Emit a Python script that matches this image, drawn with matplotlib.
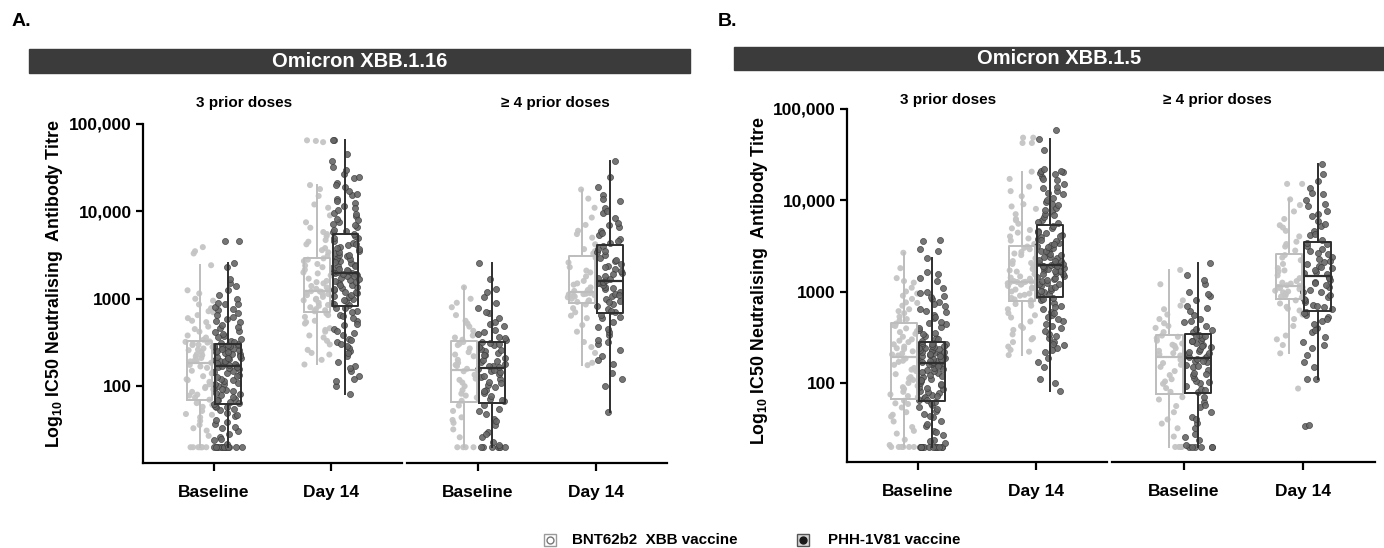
import numpy as np
import matplotlib
matplotlib.use("Agg")
import matplotlib.pyplot as plt
from matplotlib.patches import Rectangle
from matplotlib.lines import Line2D

plt.rcParams['font.family'] = ['Liberation Sans', 'DejaVu Sans']
plt.rcParams['font.weight'] = 'bold'
plt.rcParams['mathtext.fontset'] = 'custom'
plt.rcParams['mathtext.bf'] = 'Liberation Sans:bold'
plt.rcParams['mathtext.rm'] = 'Liberation Sans:bold'
plt.rcParams['mathtext.default'] = 'bf'

# ---- data ----
variants = ["Omicron XBB.1.16", "Omicron XBB.1.5"]
panel_letters = ["A.", "B."]
facets = ["3 prior doses", "\u2265 4 prior doses"]
timepoints = ["Baseline", "Day 14"]
vaccines = ["BNT62b2  XBB vaccine", "PHH-1V81 vaccine"]
ytick_vals = [100, 1000, 10000, 100000]
ytick_labels = ["100", "1000", "10,000", "100,000"]

# box statistics, order: 3d base BNT, 3d base PHH, 3d D14 BNT, 3d D14 PHH,
#                        4d base BNT, 4d base PHH, 4d D14 BNT, 4d D14 PHH
a_median = [182, 171, 1235, 1950, 152, 160, 1180, 1590]
a_q1 = [70, 62, 708, 830, 66, 65, 897, 680]
a_q3 = [328, 300, 2940, 5580, 328, 321, 3090, 4100]
a_whislo = [20, 20, 177, 82, 20, 20, 174, 51]
a_whishi = [2420, 2570, 20000, 66000, 1350, 2600, 17800, 38000]

b_median = [194, 164, 1280, 1950, 192, 186, 1157, 1490]
b_q1 = [67, 64, 782, 878, 75, 77, 834, 616]
b_q3 = [449, 278, 3140, 5330, 335, 340, 2570, 3450]
b_whislo = [20, 20, 202, 82, 20, 20, 211, 110]
b_whishi = [2650, 2340, 20400, 46000, 1720, 2040, 10150, 25000]

# individual titres (panel A, XBB.1.16)
a_3d_base_bnt = [20, 20, 20, 20, 20, 27, 31, 36, 40, 44, 48, 52, 58, 64,
                 70, 74, 80, 86, 92, 98, 105, 112, 120, 130, 140, 150, 162, 175,
                 185, 192, 200, 210, 220, 232, 245, 258, 270, 282, 295, 305, 315, 325,
                 340, 380, 420, 480, 540, 600, 650, 700, 780, 860, 1000, 1150, 1250, 2420,
                 3300, 3500, 3900,
                 20, 20, 33, 47, 61, 78, 95, 117, 146, 168,
                 196, 226, 262, 298, 321, 360, 450, 560, 720, 950]
a_3d_base_phh = [20, 20, 20, 20, 20, 20, 20, 20, 20, 22, 24, 26, 28, 31, 34, 37, 41, 45, 49, 53, 57, 60,
                 63, 66, 69, 72, 75, 79, 83, 87, 91, 95, 100, 105, 110, 116, 122, 128, 135, 142, 150, 157, 164, 169,
                 174, 178, 183, 188, 193, 199, 205, 211, 217, 224, 231, 238, 245, 252, 259, 266, 273, 280, 287, 293, 298, 300,
                 310, 330, 350, 375, 400, 430, 460, 500, 540, 580, 620, 680, 740, 800, 860, 900, 1000, 1250, 1500, 1700, 2300, 2570,
                 4600, 4600,
                 20, 20, 20, 20, 25, 33, 39, 47, 55, 58, 64, 70, 81, 93, 107, 119, 131, 146, 160, 167,
                 176, 186, 196, 208, 221, 235, 249, 263, 277, 291, 320, 365, 415, 470, 560, 650, 760, 880, 1100, 1400]
a_3d_d14_bnt = [177, 200, 240, 260, 300, 360, 380, 420, 460, 520, 560, 620, 680,
                720, 760, 800, 850, 900, 960, 1000, 1050, 1100, 1130, 1170, 1200, 1220,
                1250, 1300, 1400, 1500, 1600, 1700, 1850, 2000, 2150, 2300, 2500, 2700, 2900,
                3100, 3400, 3800, 4200, 4700, 5200, 5800, 6500, 9000, 12000, 15000, 18000, 20000,
                62000, 64000, 65000,
                230, 330, 440, 540, 650, 740, 830, 980, 1120, 1210,
                1350, 1550, 1950, 2400, 2800, 3600, 4500, 5500, 7500, 11000]
a_3d_d14_phh = [82, 100, 115, 130, 150, 170, 190, 220, 250, 270, 290, 320, 350, 380, 410, 450, 500, 550, 600, 660, 720, 790,
                850, 900, 950, 1000, 1050, 1100, 1150, 1200, 1260, 1320, 1380, 1450, 1520, 1590, 1660, 1730, 1800, 1850, 1900, 1930, 1950, 1970,
                2000, 2080, 2160, 2250, 2350, 2450, 2560, 2680, 2800, 2930, 3070, 3200, 3350, 3500, 3700, 3900, 4100, 4350, 4600, 4900, 5200, 5500,
                5800, 6200, 6600, 7100, 7600, 8200, 8900, 9700, 10500, 11500, 12500, 14000, 15500, 17000, 19000, 21000, 24000, 27000, 32000, 38000, 45000, 66000,
                65000,
                120, 160, 240, 300, 340, 430, 520, 630, 700, 780, 870, 980, 1080, 1180, 1300, 1420, 1560, 1700, 1820, 1920,
                2040, 2200, 2400, 2620, 2870, 3130, 3420, 3800, 4250, 5000, 6000, 6900, 7900, 9300, 11000, 13000, 16000, 20000, 25000, 30000]
a_4d_base_bnt = [20, 20, 20, 26, 32, 38, 44, 52, 60,
                 68, 74, 82, 90, 100, 110, 122, 135, 148,
                 158, 170, 185, 200, 220, 245, 270, 295, 320,
                 340, 380, 430, 480, 560, 650, 800, 1000, 1350,
                 20, 41, 78, 118, 175, 230, 305, 360, 520, 900]
a_4d_base_phh = [20, 20, 20, 20, 20, 21, 23, 26, 30, 36, 42, 48, 55, 61,
                 68, 72, 78, 84, 90, 97, 104, 112, 120, 128, 136, 144, 150, 156,
                 165, 172, 180, 190, 200, 212, 225, 238, 252, 266, 280, 295, 308, 318,
                 340, 370, 400, 440, 490, 540, 600, 680, 780, 900, 1050, 1300, 1700, 2600,
                 20, 20, 28, 40, 52, 70, 87, 108, 132, 153, 168, 195, 230, 260, 300, 355, 420, 520, 700, 1200]
a_4d_d14_bnt = [174, 185, 280, 320, 420, 500, 600, 700, 780, 860,
                920, 960, 1000, 1040, 1080, 1100, 1120, 1140, 1160, 1175,
                1200, 1260, 1350, 1450, 1600, 1800, 2000, 2300, 2600, 2950,
                3300, 3700, 4200, 5000, 6000, 7000, 8500, 11000, 14000, 17800,
                240, 640, 940, 1060, 1130, 1230, 1500, 2100, 3500, 5500]
a_4d_d14_phh = [51, 100, 140, 180, 220, 260, 300, 340, 380, 420, 480, 540, 600, 650,
                700, 760, 820, 880, 940, 1000, 1070, 1140, 1210, 1290, 1370, 1450, 1520, 1570,
                1620, 1720, 1830, 1950, 2080, 2220, 2370, 2530, 2700, 2900, 3150, 3400, 3700, 4000,
                4300, 4800, 5300, 5900, 6600, 7400, 8300, 9500, 11000, 13000, 15500, 19000, 25000, 38000,
                120, 200, 320, 450, 620, 730, 910, 1100, 1330, 1500,
                1680, 1900, 2300, 2800, 3550, 4550, 5600, 7000, 10000, 14000]

# individual titres (panel B, XBB.1.5)
b_3d_base_bnt = [20, 20, 20, 20, 21, 24, 28, 33, 38, 43, 48, 54, 59, 64,
                 70, 75, 80, 86, 93, 100, 108, 116, 125, 135, 146, 158, 170, 185,
                 200, 210, 222, 235, 250, 265, 280, 300, 320, 345, 370, 395, 420, 445,
                 480, 530, 580, 640, 700, 760, 830, 900, 1000, 1100, 1250, 1400, 1800, 2650,
                 20, 20, 30, 45, 60, 72, 90, 112, 140, 175,
                 205, 240, 290, 360, 430, 500, 610, 750, 950, 1300]
b_3d_base_phh = [20, 20, 20, 20, 20, 20, 20, 20, 20, 20, 22, 24, 27, 30, 34, 38, 42, 46, 50, 54, 58, 62,
                 65, 68, 71, 74, 78, 82, 86, 90, 95, 100, 105, 110, 116, 122, 128, 134, 140, 146, 152, 157, 161, 163,
                 166, 170, 174, 178, 182, 187, 192, 197, 202, 208, 214, 220, 226, 232, 238, 244, 250, 256, 262, 268, 273, 277,
                 290, 310, 330, 355, 380, 410, 440, 470, 510, 550, 600, 650, 700, 760, 830, 900, 960, 1000, 1300, 1550, 1650, 2340,
                 2800, 2900, 3600, 3640,
                 20, 20, 20, 20, 23, 29, 36, 44, 52, 60, 66, 72, 80, 88, 97, 108, 119, 131, 143, 155,
                 168, 176, 185, 195, 205, 217, 229, 241, 253, 266, 300, 345, 395, 455, 530, 620, 730, 860, 1100, 1400]
b_3d_d14_bnt = [202, 220, 250, 280, 310, 340, 380, 420, 470, 520, 580, 640, 700, 760,
                800, 850, 900, 950, 1000, 1050, 1100, 1150, 1200, 1230, 1250, 1260, 1270, 1280,
                1300, 1380, 1460, 1550, 1650, 1760, 1880, 2000, 2150, 2300, 2500, 2700, 2900, 3100,
                3300, 3600, 4000, 4400, 4900, 5500, 6200, 7000, 8000, 9000, 11000, 14000, 17000, 20400,
                42000, 42000, 48000, 48000,
                230, 300, 400, 550, 730, 820, 920, 1080, 1190, 1275,
                1420, 1700, 2050, 2600, 3000, 3800, 4700, 6000, 8500, 12500]
b_3d_d14_phh = [82, 110, 150, 190, 220, 240, 260, 280, 310, 340, 370, 400, 440, 480, 520, 560, 600, 650, 700, 750, 800, 850,
                900, 950, 1000, 1050, 1100, 1150, 1200, 1250, 1300, 1360, 1420, 1480, 1540, 1600, 1660, 1720, 1780, 1830, 1880, 1910, 1930, 1945,
                1980, 2050, 2130, 2220, 2310, 2410, 2510, 2620, 2740, 2860, 2990, 3120, 3260, 3400, 3560, 3720, 3900, 4100, 4350, 4600, 4900, 5200,
                5600, 6000, 6500, 7000, 7600, 8200, 8900, 9600, 10500, 11500, 12500, 13500, 15000, 16500, 18000, 19500, 20000, 21000, 22000, 35000, 46000, 58000,
                100, 170, 230, 270, 330, 420, 500, 580, 680, 820, 920, 1020, 1120, 1220, 1330, 1450, 1570, 1690, 1800, 1900,
                2010, 2170, 2360, 2560, 2800, 3050, 3330, 3650, 4000, 4500, 5800, 6800, 7800, 9000, 10000, 12000, 14000, 17000, 19000, 21000]
b_4d_base_bnt = [20, 20, 20, 26, 32, 40, 48, 56, 66,
                 80, 88, 98, 110, 122, 135, 150, 165, 180,
                 200, 212, 225, 240, 255, 270, 290, 310, 330,
                 360, 400, 450, 500, 560, 640, 800, 1200, 1720,
                 20, 36, 70, 104, 158, 205, 262, 320, 420, 700]
b_4d_base_phh = [20, 20, 20, 20, 21, 24, 28, 32, 37, 42, 48, 55, 62, 70,
                 80, 86, 92, 99, 106, 114, 122, 130, 139, 148, 158, 168, 176, 183,
                 190, 198, 206, 215, 225, 236, 248, 260, 272, 285, 298, 312, 325, 338,
                 360, 390, 420, 460, 500, 560, 620, 700, 800, 900, 1000, 1200, 1500, 2040,
                 20, 20, 26, 40, 58, 83, 103, 126, 152, 172, 194, 220, 255, 290, 330, 375, 480, 660, 950, 1350]
b_4d_d14_bnt = [211, 260, 330, 420, 500, 560, 620, 680, 740, 800,
                860, 900, 940, 980, 1020, 1060, 1090, 1110, 1130, 1150,
                1170, 1220, 1300, 1400, 1500, 1650, 1800, 2000, 2200, 2500,
                2800, 3100, 3500, 4000, 4600, 5300, 6200, 7500, 8800, 10150,
                15000, 15000, 87,
                300, 650, 880, 1000, 1120, 1250, 1700, 2350, 3300, 5000]
b_4d_d14_phh = [110, 110, 170, 200, 240, 280, 320, 360, 400, 440, 480, 520, 560, 600,
                640, 680, 720, 760, 810, 860, 920, 980, 1040, 1110, 1190, 1270, 1350, 1430,
                1540, 1620, 1700, 1790, 1890, 2000, 2120, 2250, 2400, 2560, 2740, 2930, 3150, 3400,
                3700, 4100, 4600, 5200, 5900, 6700, 7600, 8700, 10000, 11500, 13500, 16000, 19000, 25000,
                34, 35,
                150, 260, 380, 500, 580, 700, 830, 1000, 1230, 1400,
                1580, 1840, 2180, 2650, 3280, 4300, 5500, 7000, 9000, 12000]

a_points = [a_3d_base_bnt, a_3d_base_phh, a_3d_d14_bnt, a_3d_d14_phh,
            a_4d_base_bnt, a_4d_base_phh, a_4d_d14_bnt, a_4d_d14_phh]
b_points = [b_3d_base_bnt, b_3d_base_phh, b_3d_d14_bnt, b_3d_d14_phh,
            b_4d_base_bnt, b_4d_base_phh, b_4d_d14_bnt, b_4d_d14_phh]

# ---- style ----
light = '#bdbdbd'
light_pt = '#c4c4c4'
dark = '#2e2e2e'
dark_pt = '#666666'
bar_col = '#3b3b3b'

W, H = 1384, 548
fig = plt.figure(figsize=(W / 100, H / 100), dpi=100)


def fx(px):
    return px / W


def fy(py):
    return 1 - py / H


def jitter(n, seed):
    # deterministic horizontal spread across the box width (hash of index)
    k = np.arange(n) + seed * 1000
    u = np.sin(k * 12.9898 + 78.233) * 43758.5453
    return (u - np.floor(u) - 0.5) * 0.24


def draw_facet(ax, pts, med, q1, q3, lo, hi, first, seed):
    for t in range(2):
        for v in range(2):
            i = t * 2 + v
            pos = t + (-0.12 if v == 0 else 0.12)
            vals = np.array(pts[i], dtype=float)
            xs = pos + jitter(len(vals), seed + i)
            if v == 0:
                ax.scatter(xs, vals, s=19, color=light_pt, edgecolors='none', alpha=0.95, zorder=2)
            else:
                ax.scatter(xs, vals, s=19, color=dark_pt, edgecolors='#3c3c3c', linewidths=0.5,
                           alpha=0.9, zorder=2)
            col = light if v == 0 else dark
            st = [dict(med=med[i], q1=q1[i], q3=q3[i], whislo=lo[i], whishi=hi[i], fliers=[])]
            ax.bxp(st, positions=[pos], widths=0.22, showfliers=False, showcaps=False,
                   boxprops=dict(color=col, lw=1.4), whiskerprops=dict(color=col, lw=1.4),
                   medianprops=dict(color=col, lw=1.6), manage_ticks=False, zorder=3)
    ax.set_yscale('log')
    ax.set_xlim(-0.6, 1.6)
    ax.set_xticks([0, 1])
    ax.set_xticklabels(timepoints, fontsize=12.5, fontweight='bold')
    ax.spines['top'].set_visible(False)
    ax.spines['right'].set_visible(False)
    ax.spines['bottom'].set_linewidth(1.6)
    ax.spines['left'].set_linewidth(1.6)
    ax.tick_params(axis='x', length=6, width=1.6, pad=10)
    if first:
        ax.set_yticks(ytick_vals)
        ax.set_yticklabels(ytick_labels, fontsize=12.5, fontweight='bold')
        ax.tick_params(axis='y', length=5, width=1.6, pad=3)
    else:
        ax.spines['left'].set_visible(False)
        ax.set_yticks([])
    ax.minorticks_off()


panels = [
    dict(pts=a_points, med=a_median, q1=a_q1, q3=a_q3, lo=a_whislo, hi=a_whishi,
         lefts=[143, 407], widths=[259, 260], top=124, bottom=463, ylo=13.2,
         bar=(29, 690, 49, 73), title_y=103, titles_x=[244, 555], ylab_x=55, ylab_y=284, letter=(12, 22)),
    dict(pts=b_points, med=b_median, q1=b_q1, q3=b_q3, lo=b_whislo, hi=b_whishi,
         lefts=[847, 1112], widths=[260, 263], top=108.5, bottom=462, ylo=13.7,
         bar=(734, 1384, 47, 70), title_y=100, titles_x=[948, 1217], ylab_x=760, ylab_y=281, letter=(718, 22)),
]

for p, P in enumerate(panels):
    for f in range(2):
        ax = fig.add_axes([fx(P['lefts'][f]), fy(P['bottom']), fx(P['widths'][f]),
                           (P['bottom'] - P['top']) / H])
        sl = slice(f * 4, f * 4 + 4)
        draw_facet(ax, P['pts'][sl], P['med'][sl], P['q1'][sl], P['q3'][sl],
                   P['lo'][sl], P['hi'][sl], f == 0, seed=p * 10 + f * 4)
        ax.set_ylim(P['ylo'], 100000)
        fig.text(fx(P['titles_x'][f]), fy(P['title_y']), facets[f], ha='center', va='center',
                 fontsize=11, fontweight='bold')
    x0, x1, y0, y1 = P['bar']
    fig.patches.append(Rectangle((fx(x0), fy(y1)), fx(x1 - x0), (y1 - y0) / H,
                                 transform=fig.transFigure, color=bar_col, zorder=0))
    fig.text(fx((x0 + x1) / 2), fy((y0 + y1) / 2), variants[p], ha='center', va='center',
             color='white', fontsize=14.5, fontweight='bold')
    fig.text(fx(P['letter'][0]), fy(P['letter'][1]), panel_letters[p], ha='left', va='center',
             fontsize=14, fontweight='bold')
    fig.text(fx(P['ylab_x']), fy(P['ylab_y']), r'Log$_{10}$ IC50 Neutralising  Antibody Titre',
             rotation=90, ha='center', va='center', fontsize=12.8, fontweight='bold')

# legend, drawn by hand at the bottom
leg_y = fy(540)
icons = [dict(x=550, box_fc='white', box_ec='#9a9a9a', dot_fc='white', dot_ec='#777777'),
         dict(x=803, box_fc='#d8d8d8', box_ec='#555555', dot_fc='#1a1a1a', dot_ec='#1a1a1a')]
text_x = [572, 828]
for k, ic in enumerate(icons):
    fig.add_artist(Line2D([fx(ic['x'])], [leg_y], transform=fig.transFigure, marker='s', ms=9,
                          mfc=ic['box_fc'], mec=ic['box_ec'], mew=1.0, ls=''))
    fig.add_artist(Line2D([fx(ic['x'])], [leg_y], transform=fig.transFigure, marker='o', ms=5,
                          mfc=ic['dot_fc'], mec=ic['dot_ec'], mew=1.0, ls=''))
    fig.text(fx(text_x[k]), leg_y, vaccines[k], ha='left', va='center', fontsize=10.9,
             fontweight='bold')

fig.savefig('out.png', dpi=100)
